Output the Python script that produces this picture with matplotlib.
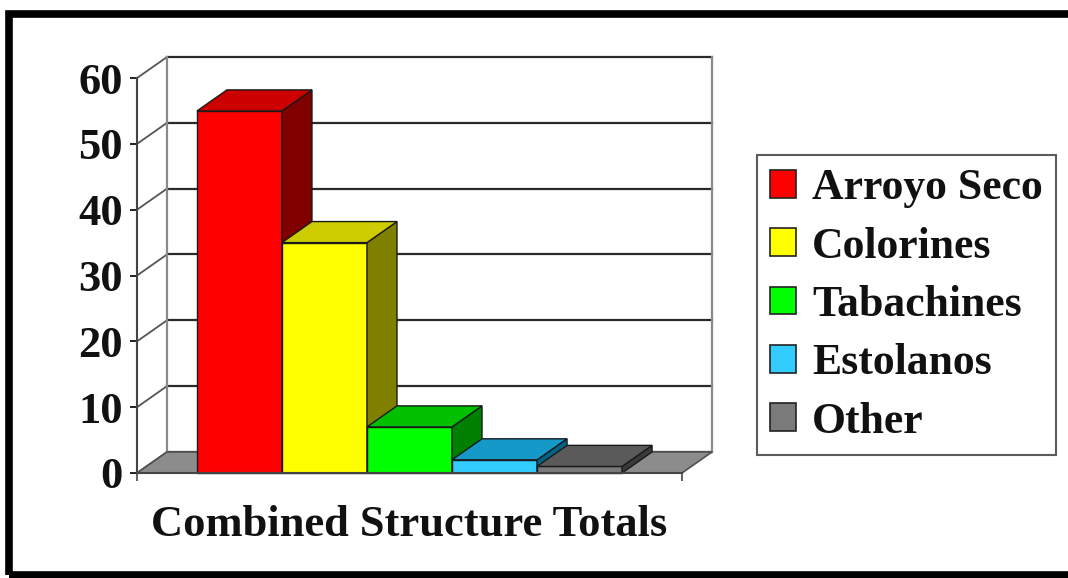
import matplotlib
matplotlib.use("Agg")
import matplotlib.pyplot as plt
from matplotlib.patches import Polygon, Rectangle, Patch

# ---- data ----
series = ["Arroyo Seco", "Colorines", "Tabachines", "Estolanos", "Other"]
values = [55, 35, 7, 2, 1]
category = "Combined Structure Totals"
yticks = [0, 10, 20, 30, 40, 50, 60]

# ---- styles ----
front_cols = ["#FF0000", "#FFFF00", "#00FF00", "#33CCFF", "#7A7A7A"]
top_cols = ["#CC0000", "#CCCC00", "#00C000", "#1499C8", "#5A5A5A"]
side_cols = ["#800000", "#808000", "#008000", "#006488", "#3A3A3A"]

plt.rcParams["font.family"] = ["Liberation Serif", "DejaVu Serif"]
plt.rcParams["font.weight"] = "bold"

W, H = 1068, 578
fig = plt.figure(figsize=(W / 100, H / 100), dpi=100)
fig.patch.set_facecolor("white")

# outer black frame
fig.patches.append(Rectangle((9 / W, 3 / H), 1.2, 1 - 14 / H - 3 / H,
                             transform=fig.transFigure, fill=False,
                             edgecolor="black", lw=5.5, zorder=0))

ymax = 60
DX = 30 / 545.0
DY = 21 / 394.0 * ymax

ax = fig.add_axes([137 / W, (H - 473) / H, (712 - 137) / W, (473 - 57) / H])
ax.set_xlim(0, 1 + DX)
ax.set_ylim(0, ymax + DY)
ax.patch.set_alpha(0)

grid_col = "#2a2a2a"
wall_col = "#8a8a8a"
# back wall gridlines + side wall gridlines
for v in yticks:
    ax.plot([DX, 1 + DX], [v + DY, v + DY], color=grid_col, lw=1.6, zorder=1,
            clip_on=False)
    ax.plot([0, DX], [v, v + DY], color="#555555", lw=1.3, zorder=1, clip_on=False)
# back wall vertical edges
ax.plot([DX, DX], [DY, ymax + DY], color=wall_col, lw=1.6, zorder=1, clip_on=False)
ax.plot([1 + DX, 1 + DX], [DY, ymax + DY], color=wall_col, lw=1.6, zorder=1,
        clip_on=False)

# floor
ax.add_patch(Polygon([(0, 0), (1, 0), (1 + DX, DY), (DX, DY)], closed=True,
                     facecolor="#8C8C8C", edgecolor="#505050", lw=1.2, zorder=2,
                     clip_on=False))

# bars
n = len(values)
w = 0.156
start = 0.5 - n * w / 2
for i, (v, fc, tc, sc) in enumerate(zip(values, front_cols, top_cols, side_cols)):
    x0 = start + i * w
    x1 = x0 + w
    z = 3 + i
    ax.add_patch(Polygon([(x0, 0), (x1, 0), (x1, v), (x0, v)], closed=True,
                         facecolor=fc, edgecolor="#1a1a1a", lw=1.0, zorder=z,
                         clip_on=False))
    ax.add_patch(Polygon([(x1, 0), (x1 + DX, DY), (x1 + DX, v + DY), (x1, v)],
                         closed=True, facecolor=sc, edgecolor="#1a1a1a", lw=1.0,
                         zorder=z, clip_on=False))
    ax.add_patch(Polygon([(x0, v), (x1, v), (x1 + DX, v + DY), (x0 + DX, v + DY)],
                         closed=True, facecolor=tc, edgecolor="#1a1a1a", lw=1.0,
                         zorder=z, clip_on=False))

# axes styling
for s in ["top", "right"]:
    ax.spines[s].set_visible(False)
ax.spines["left"].set_bounds(0, ymax)
ax.spines["bottom"].set_bounds(0, 1)
ax.spines["left"].set_color("#444444")
ax.spines["bottom"].set_color("#444444")
ax.spines["left"].set_linewidth(1.5)
ax.spines["bottom"].set_linewidth(1.5)
ax.spines["left"].set_zorder(2.5)
ax.spines["bottom"].set_zorder(10)

ax.set_yticks(yticks)
ax.set_yticklabels([str(t) for t in yticks])
ax.tick_params(axis="y", length=5, width=1.3, pad=5, labelsize=32, colors="#111111")
ax.set_xticks([0, 1])
ax.set_xticklabels(["", ""])
ax.tick_params(axis="x", which="major", length=6, width=1.3, color="#555555")
ax.set_xticks([0.5], labels=[category], minor=True)
ax.tick_params(axis="x", which="minor", length=0, pad=23, labelsize=32,
               labelcolor="#111111")

# legend
handles = [Patch(facecolor=c, edgecolor="#222222", lw=1.2) for c in front_cols]
leg = fig.legend(handles, series, loc="upper left",
                 bbox_to_anchor=(757 / W, 1 - 155 / H), bbox_transform=fig.transFigure,
                 fontsize=31.5, frameon=True, fancybox=False, borderaxespad=0,
                 handlelength=0.6, handleheight=0.6, handletextpad=0.36,
                 labelspacing=0.42, borderpad=0.3)
leg.get_frame().set_edgecolor("#333333")
leg.get_frame().set_linewidth(1.5)
for t in leg.get_texts():
    t.set_color("#111111")

fig.savefig("out.png", dpi=100)
